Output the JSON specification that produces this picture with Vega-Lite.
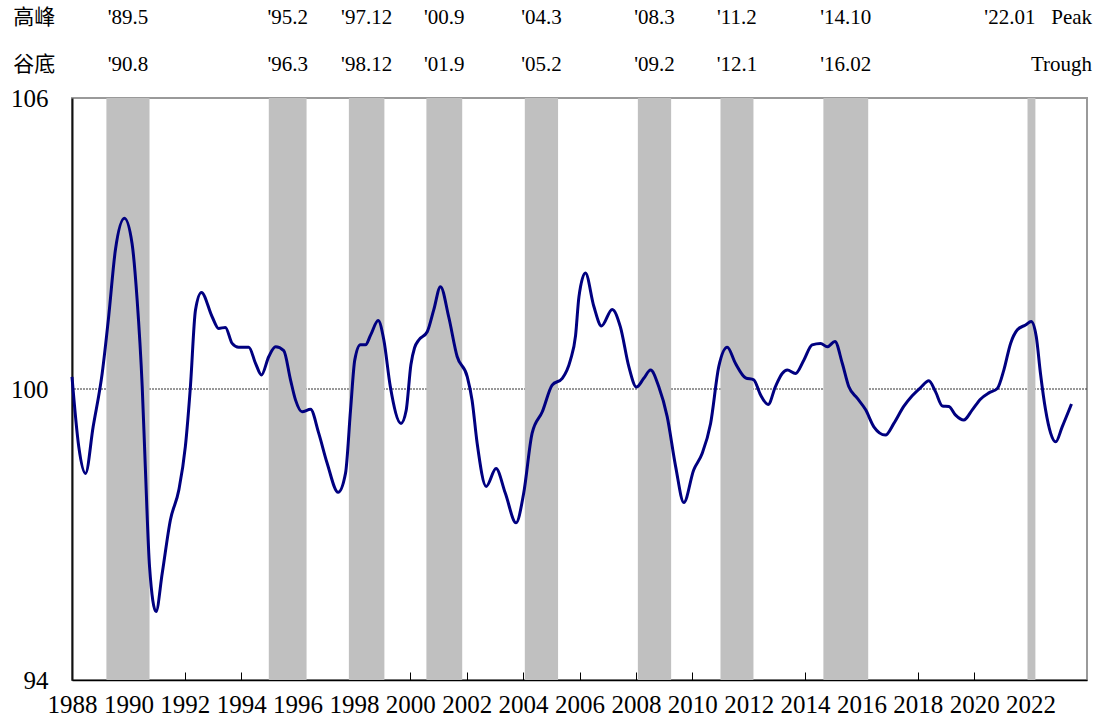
{
  "$schema": "https://vega.github.io/schema/vega-lite/v6.json",
  "autosize": {"type": "none"},
  "padding": {"left": 72, "top": 98, "right": 15, "bottom": 38},
  "width": 1015,
  "height": 582,
  "background": "white",
  "config": {
    "view": {"stroke": "#9a9a9a", "strokeWidth": 2},
    "font": "Times New Roman, Tinos, Liberation Serif, DejaVu Serif, serif"
  },
  "datasets": {
    "cycles": [
      {"start": 1989.22, "end": 1990.75, "peak": "'89.5", "trough": "'90.8", "last": false},
      {"start": 1994.98, "end": 1996.32, "peak": "'95.2", "trough": "'96.3", "last": false},
      {"start": 1997.82, "end": 1999.08, "peak": "'97.12", "trough": "'98.12", "last": false},
      {"start": 2000.57, "end": 2001.84, "peak": "'00.9", "trough": "'01.9", "last": false},
      {"start": 2004.06, "end": 2005.24, "peak": "'04.3", "trough": "'05.2", "last": false},
      {"start": 2008.07, "end": 2009.25, "peak": "'08.3", "trough": "'09.2", "last": false},
      {"start": 2011.0, "end": 2012.17, "peak": "'11.2", "trough": "'12.1", "last": false},
      {"start": 2014.65, "end": 2016.24, "peak": "'14.10", "trough": "'16.02", "last": false},
      {"start": 2021.89, "end": 2022.17, "peak": "'22.01", "trough": "", "last": true}
    ],
    "series": [
      {"t": 1988.00, "v": 100.25}, {"t": 1988.24, "v": 98.81}, {"t": 1988.48, "v": 98.26},
      {"t": 1988.75, "v": 99.22}, {"t": 1989.07, "v": 100.32}, {"t": 1989.30, "v": 101.49},
      {"t": 1989.54, "v": 102.87}, {"t": 1989.86, "v": 103.52}, {"t": 1990.13, "v": 103.0},
      {"t": 1990.31, "v": 101.84}, {"t": 1990.49, "v": 100.05}, {"t": 1990.60, "v": 98.40},
      {"t": 1990.75, "v": 96.34}, {"t": 1990.98, "v": 95.41}, {"t": 1991.20, "v": 96.2},
      {"t": 1991.49, "v": 97.30}, {"t": 1991.79, "v": 97.92}, {"t": 1992.02, "v": 98.81},
      {"t": 1992.20, "v": 100.05}, {"t": 1992.38, "v": 101.63}, {"t": 1992.59, "v": 101.99},
      {"t": 1992.97, "v": 101.49}, {"t": 1993.20, "v": 101.25}, {"t": 1993.44, "v": 101.27},
      {"t": 1993.68, "v": 100.94}, {"t": 1993.91, "v": 100.86}, {"t": 1994.27, "v": 100.86},
      {"t": 1994.51, "v": 100.53}, {"t": 1994.72, "v": 100.29}, {"t": 1994.98, "v": 100.67},
      {"t": 1995.22, "v": 100.87}, {"t": 1995.51, "v": 100.79}, {"t": 1995.75, "v": 100.19},
      {"t": 1995.93, "v": 99.77}, {"t": 1996.16, "v": 99.53}, {"t": 1996.46, "v": 99.58},
      {"t": 1996.75, "v": 99.09}, {"t": 1997.05, "v": 98.47}, {"t": 1997.44, "v": 97.87},
      {"t": 1997.70, "v": 98.26}, {"t": 1997.88, "v": 99.57}, {"t": 1998.03, "v": 100.60},
      {"t": 1998.23, "v": 100.91}, {"t": 1998.41, "v": 100.91}, {"t": 1998.59, "v": 101.11},
      {"t": 1998.86, "v": 101.41}, {"t": 1999.06, "v": 101.01}, {"t": 1999.29, "v": 100.05},
      {"t": 1999.67, "v": 99.29}, {"t": 1999.85, "v": 99.55}, {"t": 2000.02, "v": 100.5},
      {"t": 2000.15, "v": 100.85}, {"t": 2000.30, "v": 101.01}, {"t": 2000.60, "v": 101.18},
      {"t": 2000.83, "v": 101.63}, {"t": 2001.07, "v": 102.11}, {"t": 2001.36, "v": 101.49},
      {"t": 2001.66, "v": 100.67}, {"t": 2002.02, "v": 100.25}, {"t": 2002.19, "v": 99.77},
      {"t": 2002.37, "v": 98.88}, {"t": 2002.69, "v": 97.99}, {"t": 2003.04, "v": 98.36},
      {"t": 2003.37, "v": 97.85}, {"t": 2003.75, "v": 97.24}, {"t": 2004.02, "v": 97.85},
      {"t": 2004.32, "v": 99.09}, {"t": 2004.68, "v": 99.53}, {"t": 2005.03, "v": 100.08},
      {"t": 2005.39, "v": 100.22}, {"t": 2005.68, "v": 100.60}, {"t": 2005.86, "v": 101.1},
      {"t": 2005.98, "v": 101.9}, {"t": 2006.21, "v": 102.39}, {"t": 2006.51, "v": 101.70},
      {"t": 2006.78, "v": 101.30}, {"t": 2007.16, "v": 101.64}, {"t": 2007.45, "v": 101.28},
      {"t": 2007.75, "v": 100.46}, {"t": 2008.02, "v": 100.04}, {"t": 2008.28, "v": 100.22},
      {"t": 2008.52, "v": 100.39}, {"t": 2008.81, "v": 100.05}, {"t": 2009.11, "v": 99.43},
      {"t": 2009.41, "v": 98.40}, {"t": 2009.70, "v": 97.66}, {"t": 2010.05, "v": 98.33},
      {"t": 2010.35, "v": 98.67}, {"t": 2010.65, "v": 99.29}, {"t": 2010.94, "v": 100.46},
      {"t": 2011.24, "v": 100.86}, {"t": 2011.53, "v": 100.53}, {"t": 2011.89, "v": 100.23},
      {"t": 2012.18, "v": 100.19}, {"t": 2012.42, "v": 99.88}, {"t": 2012.69, "v": 99.68},
      {"t": 2012.95, "v": 100.05}, {"t": 2013.19, "v": 100.32}, {"t": 2013.37, "v": 100.39},
      {"t": 2013.66, "v": 100.32}, {"t": 2013.96, "v": 100.60}, {"t": 2014.25, "v": 100.91},
      {"t": 2014.55, "v": 100.94}, {"t": 2014.79, "v": 100.87}, {"t": 2015.06, "v": 100.98},
      {"t": 2015.32, "v": 100.53}, {"t": 2015.55, "v": 100.05}, {"t": 2015.85, "v": 99.81},
      {"t": 2016.15, "v": 99.57}, {"t": 2016.44, "v": 99.22}, {"t": 2016.85, "v": 99.05},
      {"t": 2017.15, "v": 99.29}, {"t": 2017.50, "v": 99.64}, {"t": 2017.80, "v": 99.86},
      {"t": 2018.10, "v": 100.03}, {"t": 2018.39, "v": 100.17}, {"t": 2018.63, "v": 99.94},
      {"t": 2018.87, "v": 99.65}, {"t": 2019.10, "v": 99.64}, {"t": 2019.34, "v": 99.46},
      {"t": 2019.63, "v": 99.36}, {"t": 2019.93, "v": 99.57}, {"t": 2020.22, "v": 99.79},
      {"t": 2020.52, "v": 99.92}, {"t": 2020.82, "v": 100.01}, {"t": 2021.05, "v": 100.39},
      {"t": 2021.29, "v": 100.94}, {"t": 2021.53, "v": 101.22}, {"t": 2021.82, "v": 101.32},
      {"t": 2022.02, "v": 101.39}, {"t": 2022.20, "v": 101.08}, {"t": 2022.35, "v": 100.32},
      {"t": 2022.53, "v": 99.57}, {"t": 2022.71, "v": 99.09}, {"t": 2022.89, "v": 98.91},
      {"t": 2023.12, "v": 99.22}, {"t": 2023.45, "v": 99.69}
    ],
    "headers": [
      {"label": "高峰", "row": "peak"},
      {"label": "谷底", "row": "trough"}
    ],
    "ends": [
      {"label": "Peak", "row": "peak"},
      {"label": "Trough", "row": "trough"}
    ]
  },
  "layer": [
    {
      "data": {"values": [{"level": 100}]},
      "mark": {"type": "rule", "color": "#333333", "strokeWidth": 1, "strokeDash": [2, 1]},
      "encoding": {
        "y": {
          "field": "level",
          "type": "quantitative",
          "scale": {"domain": [94, 106], "nice": false, "zero": false},
          "axis": {
            "values": [94, 100, 106],
            "title": null,
            "grid": false,
            "ticks": false,
            "labelPadding": 24,
            "labelFontSize": 25,
            "labelFont": "Times New Roman, Tinos, Liberation Serif, DejaVu Serif, serif",
            "labelColor": "#000000",
            "domainColor": "#111111",
            "domainWidth": 2
          }
        }
      }
    },
    {
      "data": {"name": "cycles"},
      "mark": {"type": "rect", "color": "#c0c0c0"},
      "encoding": {
        "x": {
          "field": "start",
          "type": "quantitative",
          "scale": {"domain": [1988, 2024], "nice": false, "zero": false},
          "axis": {
            "values": [1988, 1990, 1992, 1994, 1996, 1998, 2000, 2002, 2004, 2006, 2008, 2010, 2012, 2014, 2016, 2018, 2020, 2022],
            "format": "d",
            "title": null,
            "grid": false,
            "tickSize": -8,
            "tickColor": "#000000",
            "tickWidth": 1,
            "labelFlush": false,
            "labelOverlap": false,
            "labelPadding": 20,
            "labelFontSize": 25,
            "labelFont": "Times New Roman, Tinos, Liberation Serif, DejaVu Serif, serif",
            "labelColor": "#000000",
            "domainColor": "#000000",
            "domainWidth": 1.5
          }
        },
        "x2": {"field": "end"}
      }
    },
    {
      "data": {"name": "series"},
      "mark": {"type": "line", "color": "#000080", "strokeWidth": 3, "interpolate": "monotone"},
      "encoding": {
        "x": {"field": "t", "type": "quantitative"},
        "y": {"field": "v", "type": "quantitative"}
      }
    },
    {
      "data": {"name": "cycles"},
      "transform": [
        {"filter": "!datum.last"},
        {"calculate": "(datum.start + datum.end) / 2", "as": "mid"}
      ],
      "mark": {"type": "text", "fontSize": 21, "font": "Times New Roman, Tinos, Liberation Serif, DejaVu Serif, serif", "color": "#000000", "baseline": "middle", "align": "center"},
      "encoding": {
        "x": {"field": "mid", "type": "quantitative"},
        "y": {"datum": 107.65, "type": "quantitative"},
        "text": {"field": "peak"}
      }
    },
    {
      "data": {"name": "cycles"},
      "transform": [
        {"filter": "!datum.last"},
        {"calculate": "(datum.start + datum.end) / 2", "as": "mid"}
      ],
      "mark": {"type": "text", "fontSize": 21, "font": "Times New Roman, Tinos, Liberation Serif, DejaVu Serif, serif", "color": "#000000", "baseline": "middle", "align": "center"},
      "encoding": {
        "x": {"field": "mid", "type": "quantitative"},
        "y": {"datum": 106.68, "type": "quantitative"},
        "text": {"field": "trough"}
      }
    },
    {
      "data": {"name": "cycles"},
      "transform": [{"filter": "datum.last"}],
      "mark": {"type": "text", "fontSize": 21, "font": "Times New Roman, Tinos, Liberation Serif, DejaVu Serif, serif", "color": "#000000", "baseline": "middle", "align": "right"},
      "encoding": {
        "x": {"field": "end", "type": "quantitative"},
        "y": {"datum": 107.65, "type": "quantitative"},
        "text": {"field": "peak"}
      }
    },
    {
      "data": {"name": "ends"},
      "transform": [{"filter": "datum.row == 'peak'"}],
      "mark": {"type": "text", "fontSize": 21, "font": "Times New Roman, Tinos, Liberation Serif, DejaVu Serif, serif", "color": "#000000", "baseline": "middle", "align": "right"},
      "encoding": {
        "x": {"datum": 2024.18, "type": "quantitative"},
        "y": {"datum": 107.65, "type": "quantitative"},
        "text": {"field": "label"}
      }
    },
    {
      "data": {"name": "ends"},
      "transform": [{"filter": "datum.row == 'trough'"}],
      "mark": {"type": "text", "fontSize": 21, "font": "Times New Roman, Tinos, Liberation Serif, DejaVu Serif, serif", "color": "#000000", "baseline": "middle", "align": "right"},
      "encoding": {
        "x": {"datum": 2024.18, "type": "quantitative"},
        "y": {"datum": 106.68, "type": "quantitative"},
        "text": {"field": "label"}
      }
    },
    {
      "data": {"name": "headers"},
      "transform": [{"filter": "datum.row == 'peak'"}],
      "mark": {"type": "text", "fontSize": 21, "font": "Noto Sans CJK TC", "color": "#000000", "baseline": "middle", "align": "center"},
      "encoding": {
        "x": {"datum": 1986.66, "type": "quantitative"},
        "y": {"datum": 107.65, "type": "quantitative"},
        "text": {"field": "label"}
      }
    },
    {
      "data": {"name": "headers"},
      "transform": [{"filter": "datum.row == 'trough'"}],
      "mark": {"type": "text", "fontSize": 21, "font": "Noto Sans CJK TC", "color": "#000000", "baseline": "middle", "align": "center"},
      "encoding": {
        "x": {"datum": 1986.66, "type": "quantitative"},
        "y": {"datum": 106.68, "type": "quantitative"},
        "text": {"field": "label"}
      }
    }
  ]
}
